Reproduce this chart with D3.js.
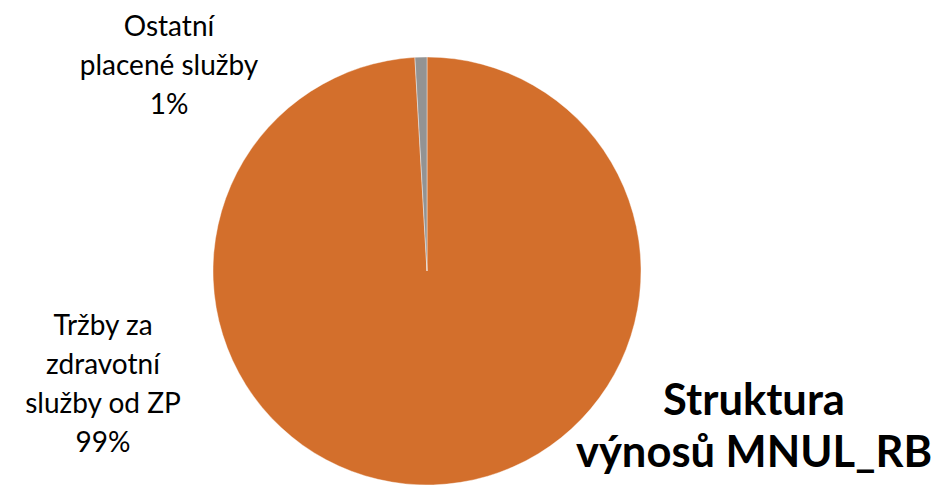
<!DOCTYPE html>
<html>
<head>
<meta charset="utf-8">
<script src="https://cdn.jsdelivr.net/npm/d3@7"></script>
<style>
  body { margin: 0; background: #fff; }
  svg text { font-family: Lato, "Open Sans", sans-serif; fill: #000; }
</style>
</head>
<body>
<div class="pie-chart"></div>
<script>
const categories = ["Tržby za zdravotní služby od ZP", "Ostatní placené služby"];
const values = [99.1, 0.9];
const percentLabels = ["99%", "1%"];
const labelLines = [
  ["Tržby za", "zdravotní", "služby od ZP", "99%"],
  ["Ostatní", "placené služby", "1%"],
];
const titleLines = ["Struktura", "výnosů MNUL_RB"];

const colors = ["#d36f2c", "#939393"];

const width = 937;
const height = 485;
const cx = 427;
const cy = 271;
const radius = 214;

const svg = d3
  .select(".pie-chart")
  .append("svg")
  .attr("width", width)
  .attr("height", height);

const pie = d3.pie().sort(null).value((d) => d);
const arcs = pie(values);

const arc = d3.arc().innerRadius(0).outerRadius(radius);

const g = svg.append("g").attr("transform", "translate(" + cx + "," + cy + ")");

g.selectAll("path")
  .data(arcs)
  .enter()
  .append("path")
  .attr("d", arc)
  .attr("fill", (d, i) => colors[i])
  .attr("stroke", "#ffffff")
  .attr("stroke-opacity", 0.5)
  .attr("stroke-width", 0.8);

// label anchor positions (centre x, first baseline)
const labelPos = [
  { x: 103, y: 335 },
  { x: 169, y: 36 },
];

labelLines.forEach(function (lines, i) {
  const t = svg
    .append("text")
    .attr("text-anchor", "middle")
    .style("font-size", "28px");
  lines.forEach(function (line, j) {
    t.append("tspan")
      .attr("x", labelPos[i].x)
      .attr("y", labelPos[i].y + j * 39)
      .text(line);
  });
});

const title = svg
  .append("text")
  .attr("text-anchor", "middle")
  .style("font-size", "43.5px")
  .style("font-weight", "bold");
titleLines.forEach(function (line, j) {
  title
    .append("tspan")
    .attr("x", 754)
    .attr("y", 415 + j * 52)
    .text(line);
});
</script>
</body>
</html>
